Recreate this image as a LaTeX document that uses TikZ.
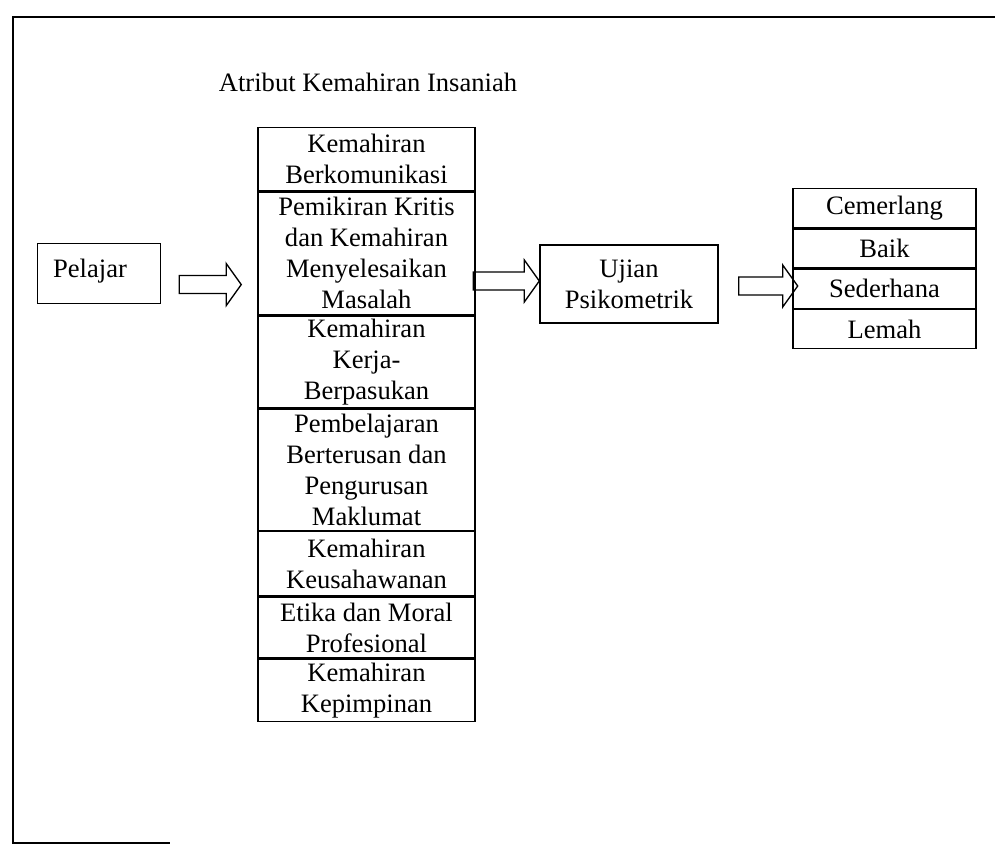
\documentclass[tikz,border=0pt]{standalone}
\usepackage{fontspec}
\setmainfont{Liberation Serif}
\usetikzlibrary{positioning,calc}
\tikzset{
  txt/.style={font=\fontsize{12}{14}\selectfont},
  cell/.style={txt,draw,line width=.6pt,align=center,inner sep=0pt,minimum width=98pt},
  grade/.style={txt,draw,line width=.6pt,align=center,inner sep=0pt,
    minimum width=82.6pt,minimum height=17.6pt},
  box/.style={txt,draw,line width=.6pt},
  arrowline/.style={line width=.6pt}
}
% block arrow: #1 tail point, #2 length (px)
\newcommand{\blockarrow}[2]{%
  \draw[arrowline] (#1) ++(0,-9) -- ++({#2-15},0) -- ++(0,-12) -- ++(15,21)
    -- ++(-15,21) -- ++(0,-12) -- ++({15-#2},0) -- cycle;}
\begin{document}
\begin{tikzpicture}[x=0.4515pt,y=-0.4515pt]
  \useasboundingbox (0,0) rectangle (995,845);
  % frame
  \draw[line width=.7pt] (995,17) -- (13,17) -- (13,843) -- (170,843);
  \node[txt] (title) at (368,82) {Atribut Kemahiran Insaniah};
  % input
  \node[box,anchor=north west,inner ysep=0pt,inner xsep=7pt,text width=41.5pt,
    align=left,text height=15.4pt,text depth=11.6pt] (pel) at (37,243) {Pelajar};
  % attributes
  \node[cell,anchor=north,minimum height=28.4pt] (r1) at (366.5,127)
    {Kemahiran\\Berkomunikasi};
  \node[cell,below=0pt of r1,minimum height=55.5pt] (r2)
    {Pemikiran Kritis\\dan Kemahiran\\Menyelesaikan\\Masalah};
  \node[cell,below=0pt of r2,minimum height=41.5pt] (r3)
    {Kemahiran\\Kerja-\\Berpasukan};
  \node[cell,below=0pt of r3,minimum height=54.6pt] (r4)
    {Pembelajaran\\Berterusan dan\\Pengurusan\\Maklumat};
  \node[cell,below=0pt of r4,minimum height=28.9pt] (r5)
    {Kemahiran\\Keusahawanan};
  \node[cell,below=0pt of r5,minimum height=27.5pt] (r6)
    {Etika dan Moral\\Profesional};
  \node[cell,below=0pt of r6,minimum height=28pt] (r7)
    {Kemahiran\\Kepimpinan};
  % test
  \node[box,align=center,inner sep=0pt,minimum width=80.4pt,minimum height=35.2pt]
    (ujian) at (629,284) {Ujian\\Psikometrik};
  % grades
  \node[grade,anchor=north] (g1) at (884.5,188) {Cemerlang};
  \node[grade,below=0pt of g1] (g2) {Baik};
  \node[grade,below=0pt of g2] (g3) {Sederhana};
  \node[grade,below=0pt of g3] (g4) {Lemah};
  % arrows
  \coordinate (a1) at ($(pel.east)+(18,11)$);
  \coordinate (a2) at ($(ujian.west)+(-66,-3)$);
  \coordinate (a3) at ($(ujian.east)+(20,2)$);
  \blockarrow{a1}{62}
  \blockarrow{a2}{66}
  \blockarrow{a3}{59}
\end{tikzpicture}
\end{document}
